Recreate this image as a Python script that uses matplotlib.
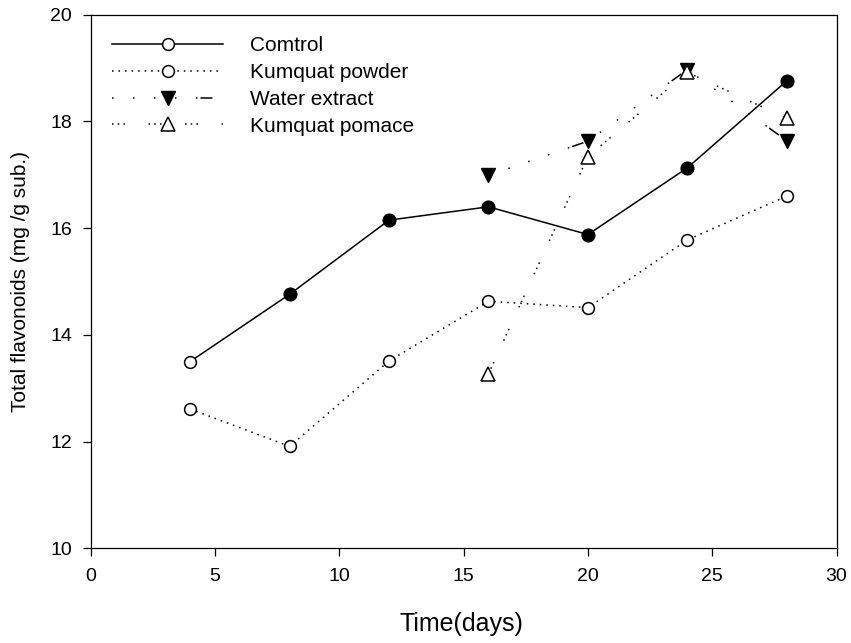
import matplotlib
matplotlib.use("Agg")
import matplotlib.pyplot as plt

# Total flavonoids over storage time
days = [4, 8, 12, 16, 20, 24, 28]
control = [13.50, 14.76, 16.15, 16.40, 15.88, 17.13, 18.76]
powder = [12.61, 11.91, 13.51, 14.63, 14.51, 15.78, 16.60]

days_late = [16, 20, 24, 28]
water_extract = [16.99, 17.63, 18.97, 17.64]
pomace = [13.27, 17.34, 18.92, 18.06]

labels = ["Comtrol", "Kumquat powder", "Water extract", "Kumquat pomace"]

plt.rcParams['font.family'] = ['Liberation Sans', 'DejaVu Sans']
plt.rcParams['lines.scale_dashes'] = False

W, H = 851, 643
fig = plt.figure(figsize=(W / 100, H / 100), dpi=100)
ax = fig.add_axes([90.7 / W, 1 - 548.3 / H, (836.5 - 90.7) / W, (548.3 - 14.7) / H])

lw = 1.1
ms_c = 8.5
ms_t = 10.5

ax.plot(days, control, color='k', lw=lw, ls='-', marker='o', ms=ms_c,
        mfc='white', mec='k', mew=1.1, label=labels[0], zorder=3)
# all control points after day 4 are drawn filled
ax.plot(days[1:], control[1:], ls='none', marker='o', ms=ms_c + 0.6,
        mfc='k', mec='k', zorder=4)

ax.plot(days, powder, color='k', lw=lw, ls=(0, (1.1, 3.6)), marker='o',
        ms=ms_c, mfc='white', mec='k', mew=1.1, label=labels[1], zorder=3)

ax.plot(days_late, water_extract, color='k', lw=lw,
        ls=(0, (1.1, 14, 1.1, 14, 1.1, 14, 1.1, 14, 1.1, 2.2, 8.6, 14)),
        marker='v', ms=ms_t, mfc='k', mec='k', label=labels[2], zorder=3)

ax.plot(days_late, pomace, color='k', lw=lw,
        ls=(0, (1.1, 3, 1.1, 3, 1.1, 17)),
        marker='^', ms=ms_t, mfc='white', mec='k', mew=1.1,
        label=labels[3], zorder=3)

ax.set_xlim(0, 30)
ax.set_ylim(10, 20)
ax.set_xticks(range(0, 31, 5))
ax.set_yticks(range(10, 21, 2))

for s in ax.spines.values():
    s.set_linewidth(0.9)
ax.tick_params(axis='both', direction='out', length=6, width=0.9,
               labelsize=14, top=False, right=False)
ax.tick_params(axis='x', pad=8.5)
ax.tick_params(axis='y', pad=7.5)

fig.text(461 / W, 1 - 630.7 / H, "Time(days)", fontsize=18,
         ha='center', va='baseline')
fig.text(20.5 / W, 1 - 282 / H, "Total flavonoids (mg /g sub.)",
         fontsize=15, rotation=90, ha='center', va='center')

ax.legend(loc='upper left', bbox_to_anchor=(112 / W, 1 - 36 / H),
          bbox_transform=fig.transFigure, frameon=False, fontsize=15,
          handlelength=5.33, handletextpad=1.3, labelspacing=0.38,
          borderpad=0, borderaxespad=0, numpoints=1)

fig.savefig("out.png", dpi=100)
